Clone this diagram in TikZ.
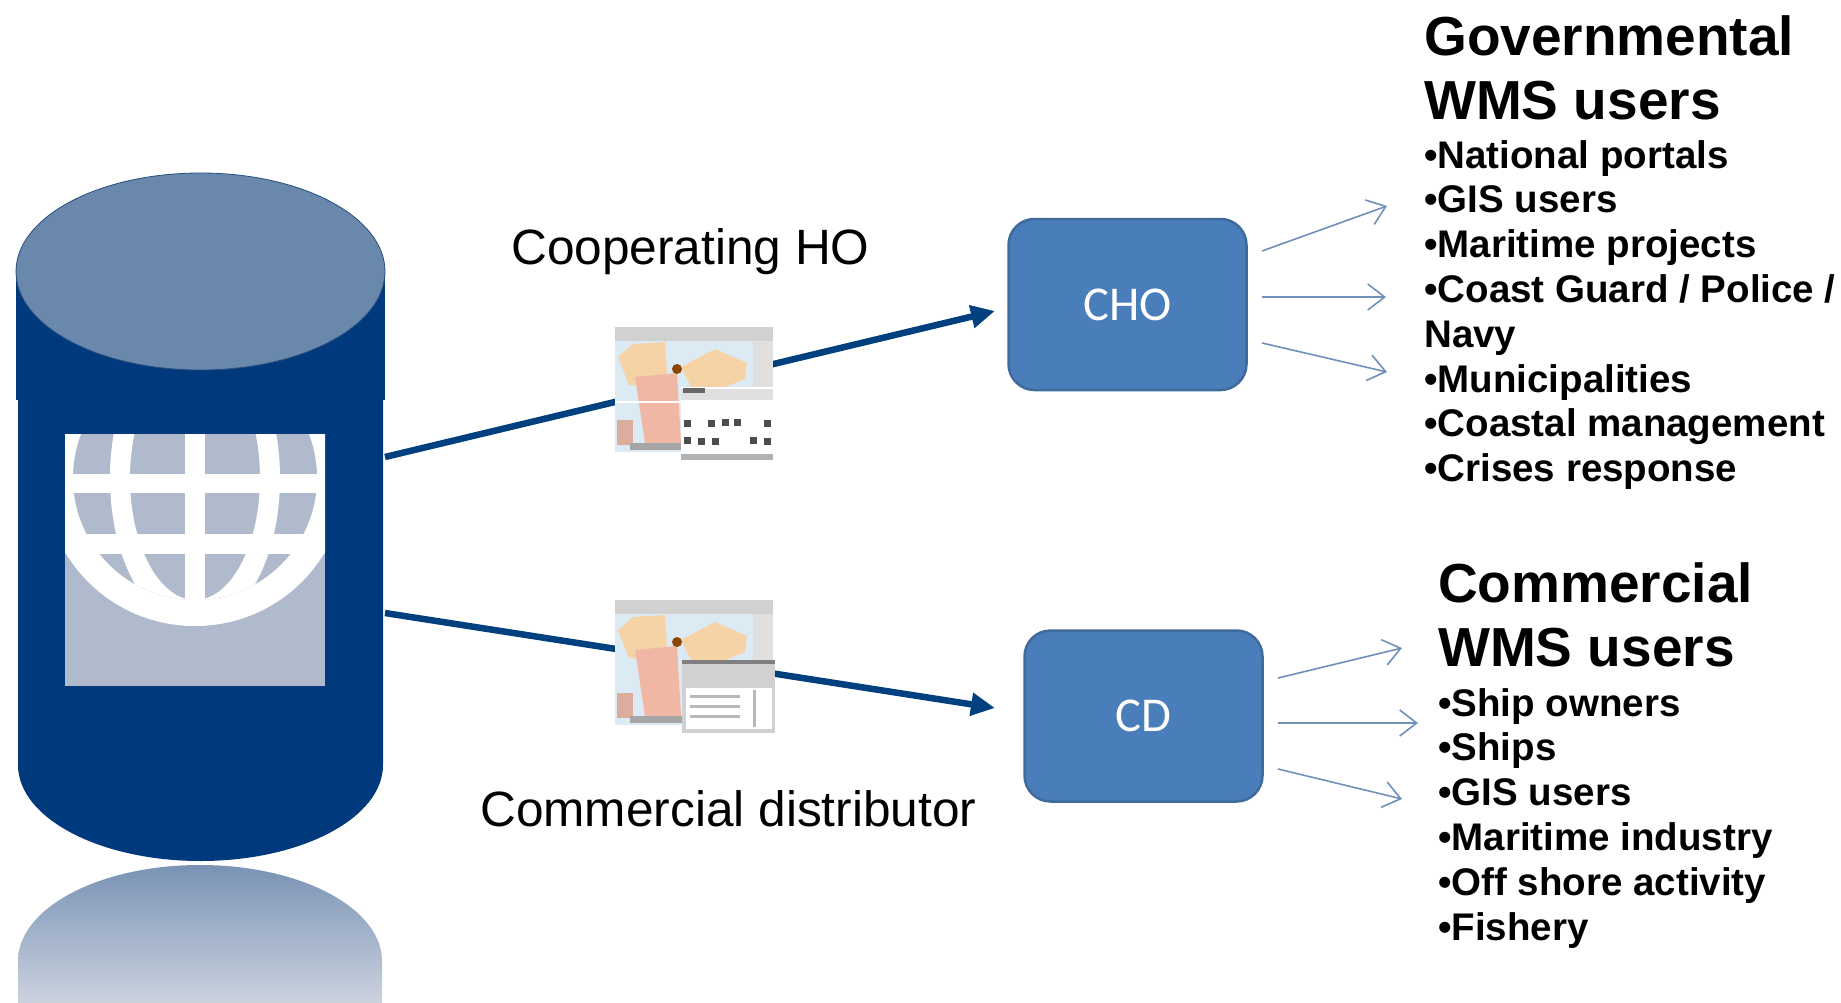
\documentclass[tikz,border=0pt]{standalone}
\usepackage{fontspec}
\setmainfont{Liberation Sans}
\newfontfamily\boxfont{Carlito}
\usetikzlibrary{arrows.meta}
\usetikzlibrary{positioning}

\definecolor{dbblue}{HTML}{003A7D}
\definecolor{dbtop}{HTML}{6A87AC}
\definecolor{globegray}{HTML}{B0BACD}
\definecolor{linkblue}{HTML}{00407F}
\definecolor{boxblue}{HTML}{4A7EBB}
\definecolor{boxedge}{HTML}{3F6B9A}
\definecolor{thinblue}{HTML}{6F90B8}
\definecolor{mapsea}{HTML}{DCEAF3}
\definecolor{mapland}{HTML}{F6D3A6}
\definecolor{mapred}{HTML}{F0B8A4}

\tikzset{
    sysbox/.style={draw=boxedge, line width=2.5pt, fill=boxblue, rounded corners=26pt,
        minimum width=238pt, minimum height=171pt, inner sep=0pt, text=white,
        font=\boxfont\fontsize{48.6}{50}\selectfont},
    thicklink/.style={draw=linkblue, line width=6.5pt, -{Triangle[length=24pt,width=22pt]}},
    thinlink/.style={draw=thinblue, line width=1.6pt, -{Straight Barb[length=17pt,width=26pt,line width=1.6pt]}},
    plainlabel/.style={inner sep=0pt, font=\fontsize{49.6}{60}\selectfont},
    headlabel/.style={anchor=north west, align=left, inner sep=0pt,
        font=\bfseries\fontsize{55}{64.6}\selectfont},
    listlabel/.style={anchor=north west, align=left, inner sep=0pt,
        font=\bfseries\fontsize{38.5}{44.8}\selectfont},
    pics/mapshot/.style={code={
        \fill[mapsea] (0,0) rectangle (158,125);
        \fill[black!18] (0,0) rectangle (158,14);
        \fill[black!12] (138,14) rectangle (158,125);
        \fill[mapland] (3,30) -- (18,17) -- (50,15) -- (52,45) -- (44,60) -- (14,58) -- cycle;
        \fill[mapland] (66,40) -- (100,22) -- (132,36) -- (130,52) -- (100,64) -- (76,60) -- cycle;
        \fill[mapred] (20,50) -- (62,46) -- (66,116) -- (30,116) -- cycle;
        \fill[mapred!80!gray] (2,93) rectangle (18,118);
        \fill[black!45!orange] (62,42) circle (5);
        \fill[black!35] (15,116) rectangle (70,123);
    }}
}

\begin{document}
\begin{tikzpicture}[x=1pt, y=-1pt]
    \useasboundingbox (0,0) rectangle (1841,1003);

    % Database cylinder
    \fill[dbblue] (18,400) -- (18,765) arc (180:0:182.5 and 96) -- (383,400) -- cycle;
    \fill[dbblue] (16,271) rectangle (385,400);
    \fill[dbtop, draw=dbblue!70!gray, line width=0.8pt] (200.5,271.5) ellipse (184.5 and 98.5);

    % Reflection below the cylinder
    \shade[top color=dbtop!90!white, bottom color=globegray!65!white]
        (18,1003) -- (18,961) arc (180:360:182 and 96) -- (382,1003) -- cycle;

    % Globe
    \begin{scope}
        \fill[globegray] (65,434) rectangle (325,686);
        \clip (65,434) rectangle (325,686);
        \fill[white] (195,478) ellipse (150 and 148);
        \fill[globegray] (195,478) circle (122);
        \begin{scope}
            \clip (195,478) circle (122);
            \fill[white, even odd rule] (195,478) ellipse (85 and 150) (195,478) ellipse (65 and 122);
        \end{scope}
        \fill[white] (185,434) rectangle (205,626);
        \fill[white] (65,474) rectangle (325,493);
        \fill[white] (65,533.5) rectangle (325,554);
    \end{scope}

    % Boxes
    \node[sysbox] (cho) at (1127.5,304.5) {CHO};
    \node[sysbox] (cd) at (1143.5,716) {CD};

    % Free ends of the links
    \coordinate (dbhigh) at (385,457);
    \coordinate (dblow) at (385,613);
    \coordinate (chotip) at (995,311);
    \coordinate (cdtip) at (995,708);
    \foreach \nm/\ya/\xb/\yb in {a/251/1387/206, b/297/1386/297, c/343/1387/372} {
        \coordinate (choout\nm) at (1262,\ya);
        \coordinate (chotip\nm) at (\xb,\yb);
        \draw[thinlink] (choout\nm) -- (chotip\nm);
    }
    \foreach \nm/\ya/\xb/\yb in {a/678/1402/648, b/723/1418/723, c/769/1402/799} {
        \coordinate (cdout\nm) at (1278,\ya);
        \coordinate (cdtip\nm) at (\xb,\yb);
        \draw[thinlink] (cdout\nm) -- (cdtip\nm);
    }

    % Thick links
    \draw[thicklink] (dbhigh) -- (chotip);
    \draw[thicklink] (dblow) -- (cdtip);

    % Upper map screenshot
    \pic at (615,327) {mapshot};
    \fill[white] (615,401) rectangle (773,403);
    \fill[white] (681,387) rectangle (773,460);
    \fill[black!30] (681,454) rectangle (773,460);
    \fill[black!12] (681,389) rectangle (773,400);
    \fill[black!60] (683,388) rectangle (705,393);
    \foreach \x/\y in {684/427, 708/427, 722/426, 734/426, 764/427, 684/444, 698/445, 712/445, 750/444, 764/445} {
        \fill[black!70] (\x,\y) rectangle ++(7,-7);
    }

    % Lower map screenshot
    \pic at (615,600) {mapshot};
    \fill[black!18] (682,660) rectangle (775,733);
    \fill[black!50] (682,660) rectangle (775,664);
    \fill[white] (686,688) rectangle (772,729);
    \foreach \y in {696,706,716} {
        \draw[black!28, line width=3pt] (690,\y) -- (740,\y);
    }
    \draw[black!28, line width=3pt] (754,690) -- (754,727);

    % Labels
    \node[plainlabel, anchor=west] (cooplabel) at (511,251.5) {Cooperating HO};
    \node[plainlabel, anchor=west] (distlabel) at (480,809) {Commercial distributor};

    \node[headlabel] (govhead) at (1424,15) {Governmental\\WMS users};
    \node[listlabel] (govlist) at (1424,140) {•National portals\\•GIS users\\•Maritime projects\\•Coast Guard / Police /\\Navy\\•Municipalities\\•Coastal management\\•Crises response};

    \node[headlabel] (comhead) at (1438,562) {Commercial\\WMS users};
    \node[listlabel] (comlist) at (1438,688) {•Ship owners\\•Ships\\•GIS users\\•Maritime industry\\•Off shore activity\\•Fishery};
\end{tikzpicture}
\end{document}
